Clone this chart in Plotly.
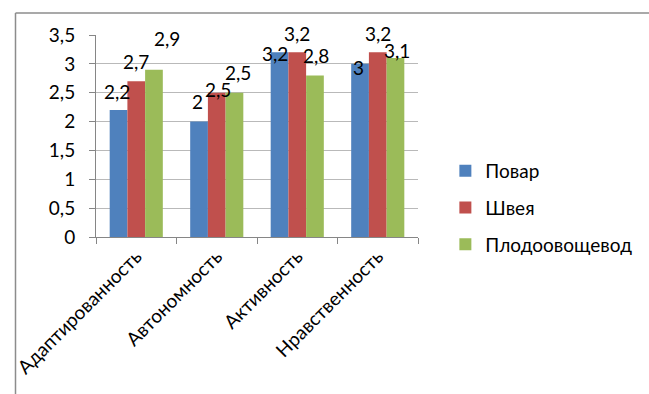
import plotly.graph_objects as go

# Data
categories = ["Адаптированность", "Автономность", "Активность", "Нравственность"]
series_names = ["Повар", "Швея", "Плодоовощевод"]
povar = [2.2, 2.0, 3.2, 3.0]
shveya = [2.7, 2.5, 3.2, 3.2]
plodoovoshchevod = [2.9, 2.5, 2.8, 3.1]
y_ticks = [0, 0.5, 1, 1.5, 2, 2.5, 3, 3.5]

series_values = [povar, shveya, plodoovoshchevod]
colors = ["#4F81BD", "#C0504D", "#9BBB59"]

# Label nudges (px) per series / category: (dx, dy above bar top)
label_nudge = [
    [(0, 19), (0, 20), (-3, -1), (0, -4)],
    [(0, 20), (1, 3), (0, 19), (0, 19)],
    [(12, 31), (2, 20), (0, 20), (0, 8)],
]

W, H = 649, 394
ML, MR, MT, MB = 96, 209, 35, 157
plot_w = W - ML - MR
plot_h = H - MT - MB
BARGAP = 0.34
cat_w = plot_w / len(categories)
bar_w = cat_w * (1 - BARGAP) / len(series_names)

FONT = "Lato, Carlito, Calibri, sans-serif"
FS = 19


def fmt(v):
    s = ("%g" % v).replace(".", ",")
    return s


fig = go.Figure()
for i, (name, vals) in enumerate(zip(series_names, series_values)):
    fig.add_trace(go.Bar(
        x=categories, y=vals, name=name, marker_color=colors[i],
        marker_line_width=0, legendgroup=name,
    ))

annotations = []
for i, vals in enumerate(series_values):
    off = (i - (len(series_names) - 1) / 2) * bar_w
    for j, (c, v) in enumerate(zip(categories, vals)):
        dx, dy = label_nudge[i][j]
        annotations.append(dict(
            x=c, y=v, xref="x", yref="y", text=fmt(v), showarrow=False,
            xshift=off + dx, yshift=dy, xanchor="center", yanchor="middle",
            font=dict(family=FONT, size=FS, color="#000000"),
        ))

# outer chart frame (left and top edges visible)
fx = (10 - ML) / plot_w
fy = (H - MB - 13) / plot_h
shapes = [
    dict(type="line", xref="paper", yref="paper", x0=fx, x1=fx, y0=fy, y1=-2,
         line=dict(color="#8C8C8C", width=1.5)),
    dict(type="line", xref="paper", yref="paper", x0=fx, x1=3, y0=fy, y1=fy,
         line=dict(color="#8C8C8C", width=1.5)),
]

fig.update_layout(
    width=W, height=H,
    margin=dict(l=ML, r=MR, t=MT, b=MB),
    paper_bgcolor="white", plot_bgcolor="white",
    barmode="group", bargap=BARGAP, bargroupgap=0,
    font=dict(family=FONT, size=FS, color="#000000"),
    annotations=annotations, shapes=shapes,
    legend=dict(x=1.085, y=(H - MB - 208) / plot_h, xanchor="left",
                yanchor="middle",
                font=dict(family=FONT, size=FS), tracegroupgap=9,
                itemwidth=30, bgcolor="rgba(0,0,0,0)"),
    xaxis=dict(tickangle=-45, showline=True, linecolor="#868686",
               ticks="outside", ticklen=6, tickcolor="#868686",
               tickson="boundaries", showgrid=False,
               tickfont=dict(family=FONT, size=FS)),
    yaxis=dict(range=[0, 3.5], tickvals=y_ticks,
               ticktext=[fmt(t) for t in y_ticks],
               showline=True, linecolor="#868686", ticks="outside",
               ticklen=6, tickcolor="#868686", showgrid=True,
               gridcolor="#B9B9B9", gridwidth=1, zeroline=False,
               ticklabelstandoff=10, tickfont=dict(family=FONT, size=FS)),
)

fig.write_html("out.html")
